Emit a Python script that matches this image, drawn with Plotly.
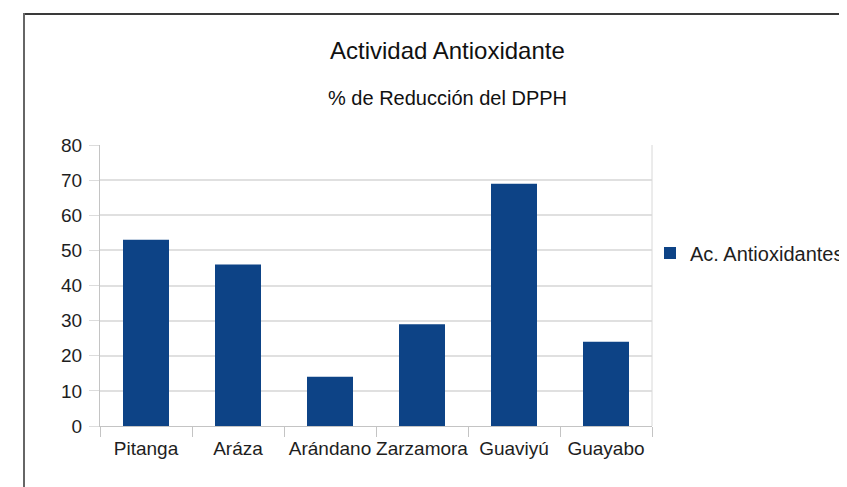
import plotly.graph_objects as go

categories = ["Pitanga", "Aráza", "Arándano", "Zarzamora", "Guaviyú", "Guayabo"]
values = [53, 46, 14, 29, 69, 24]
series_name = "Ac. Antioxidantes"
y_ticks = [0, 10, 20, 30, 40, 50, 60, 70, 80]

OFF = 8  # default page body margin
W, H = 847 - OFF, 487 - OFF
# plot area in reference-pixel coordinates
L, R, T, B = 100, 652, 145, 426
pw, ph = R - L, B - T

def px(x):
    return (x - L) / pw

def py(y):
    return (B - y) / ph

FONT = "Liberation Sans, Arial, sans-serif"
TXT = "#1e1e1e"
FS = 19

fig = go.Figure()
fig.add_trace(go.Bar(
    x=categories, y=values, name=series_name,
    marker=dict(color="#0d4386", line=dict(width=0)),
    width=0.5, showlegend=True,
))

fig.update_layout(
    width=W, height=H,
    margin=dict(l=L - OFF, r=W - (R - OFF), t=T - OFF, b=H - (B - OFF), pad=0, autoexpand=False),
    paper_bgcolor="white", plot_bgcolor="white",
    font=dict(family=FONT, size=FS, color=TXT),
    showlegend=True,
    legend=dict(x=px(650), y=py(253), xanchor="left", yanchor="middle",
                font=dict(size=20, color=TXT), itemwidth=30,
                bgcolor="rgba(0,0,0,0)"),
    xaxis=dict(
        showline=True, linecolor="#c4c4c4", linewidth=1,
        ticks="outside", ticklen=10, tickcolor="#c4c4c4", tickson="boundaries",
        ticklabelstandoff=5,
        showgrid=False, tickfont=dict(size=FS, color=TXT), tickangle=0,
        automargin=False, range=[-0.5, 5.5],
    ),
    yaxis=dict(
        range=[0, 80], tickvals=y_ticks,
        showline=True, linecolor="#c4c4c4", linewidth=1,
        ticks="outside", ticklen=10, tickcolor="#dcdcdc", ticklabelstandoff=3,
        showgrid=True, gridcolor="#e0e0e0", gridwidth=2, automargin=False,
        zeroline=False, tickfont=dict(size=FS, color=TXT),
    ),
    annotations=[
        dict(text="Actividad Antioxidante", x=px(447), y=py(51), xref="paper", yref="paper",
             showarrow=False, font=dict(size=24, color="#111"), xanchor="center", yanchor="middle"),
        dict(text="% de Reducción del DPPH", x=px(447), y=py(98), xref="paper", yref="paper",
             showarrow=False, font=dict(size=20, color="#111"), xanchor="center", yanchor="middle"),
    ],
    shapes=[
        dict(type="line", xref="paper", yref="paper", x0=px(23), x1=px(860), y0=py(14), y1=py(14),
             line=dict(color="#3a3a3a", width=2)),
        dict(type="line", xref="paper", yref="paper", x0=px(24), x1=px(24), y0=py(13), y1=py(500),
             line=dict(color="#666", width=2)),
        dict(type="line", xref="paper", yref="paper", x0=1, x1=1, y0=0, y1=1,
             line=dict(color="#d8d8d8", width=1)),
    ],
)

fig.write_html("out.html")
